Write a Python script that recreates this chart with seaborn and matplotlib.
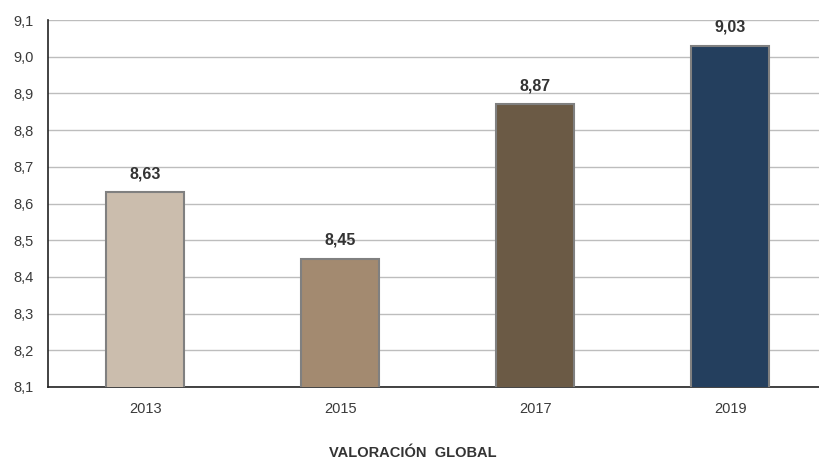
import matplotlib
matplotlib.use("Agg")
import matplotlib.pyplot as plt
import seaborn as sns
import pandas as pd
from matplotlib.ticker import FuncFormatter, FixedLocator

years = ["2013", "2015", "2017", "2019"]
scores = [8.63, 8.45, 8.87, 9.03]
bar_colors = ["#CBBDAD", "#A38A70", "#6B5A45", "#243F5E"]
y_ticks = [8.1, 8.2, 8.3, 8.4, 8.5, 8.6, 8.7, 8.8, 8.9, 9.0, 9.1]
xlabel_text = "VALORACIÓN  GLOBAL"

sns.set_style("white")
plt.rcParams["font.family"] = ["Liberation Sans", "DejaVu Sans"]

df = pd.DataFrame({"year": years, "score": scores})

fig = plt.figure(figsize=(8.2, 4.59), dpi=100)
ax = fig.add_axes([48 / 820, 1 - 387 / 459, (820 - 48) / 820, (387 - 20) / 459])

sns.barplot(data=df, x="year", y="score", hue="year", palette=bar_colors,
            saturation=1, legend=False, width=0.4, edgecolor="#808080",
            linewidth=1.5, ax=ax, zorder=3)

ax.set_ylim(8.1, 9.1)
ax.set_xlim(-0.5, 3.459)
ax.set_yticks(y_ticks)
ax.yaxis.set_major_formatter(FuncFormatter(lambda v, p: f"{v:.1f}".replace(".", ",")))
ax.grid(axis="y", color="#BDBDBD", linewidth=1.0, zorder=0)

# Tick marks between categories on the x axis
ax.xaxis.set_minor_locator(FixedLocator([0.5, 1.5, 2.5]))
ax.tick_params(axis="x", which="major", length=0, labelsize=10.5, colors="#3a3a3a", pad=11)
ax.tick_params(axis="x", which="minor", length=5, width=1, color="#333333", direction="out")
ax.tick_params(axis="y", length=5, width=1, color="#333333", labelsize=10.5,
               labelcolor="#3a3a3a", direction="out", pad=5)

for side in ["top", "right"]:
    ax.spines[side].set_visible(False)
ax.spines["left"].set_color("#222222")
ax.spines["bottom"].set_color("#222222")
ax.spines["left"].set_linewidth(1.2)
ax.spines["bottom"].set_linewidth(1.2)

for i, v in enumerate(scores):
    ax.annotate(f"{v:.2f}".replace(".", ","), (i, v), xytext=(0, 8),
                textcoords="offset points", ha="center", va="bottom",
                fontsize=11.5, fontweight="bold", color="#333333")

ax.set_xlabel("")
ax.set_ylabel("")
fig.text(413 / 820, 1 - 453 / 459, xlabel_text, ha="center", va="center",
         fontsize=10.5, fontweight="bold", color="#333333")

fig.savefig("out.png", dpi=100)
